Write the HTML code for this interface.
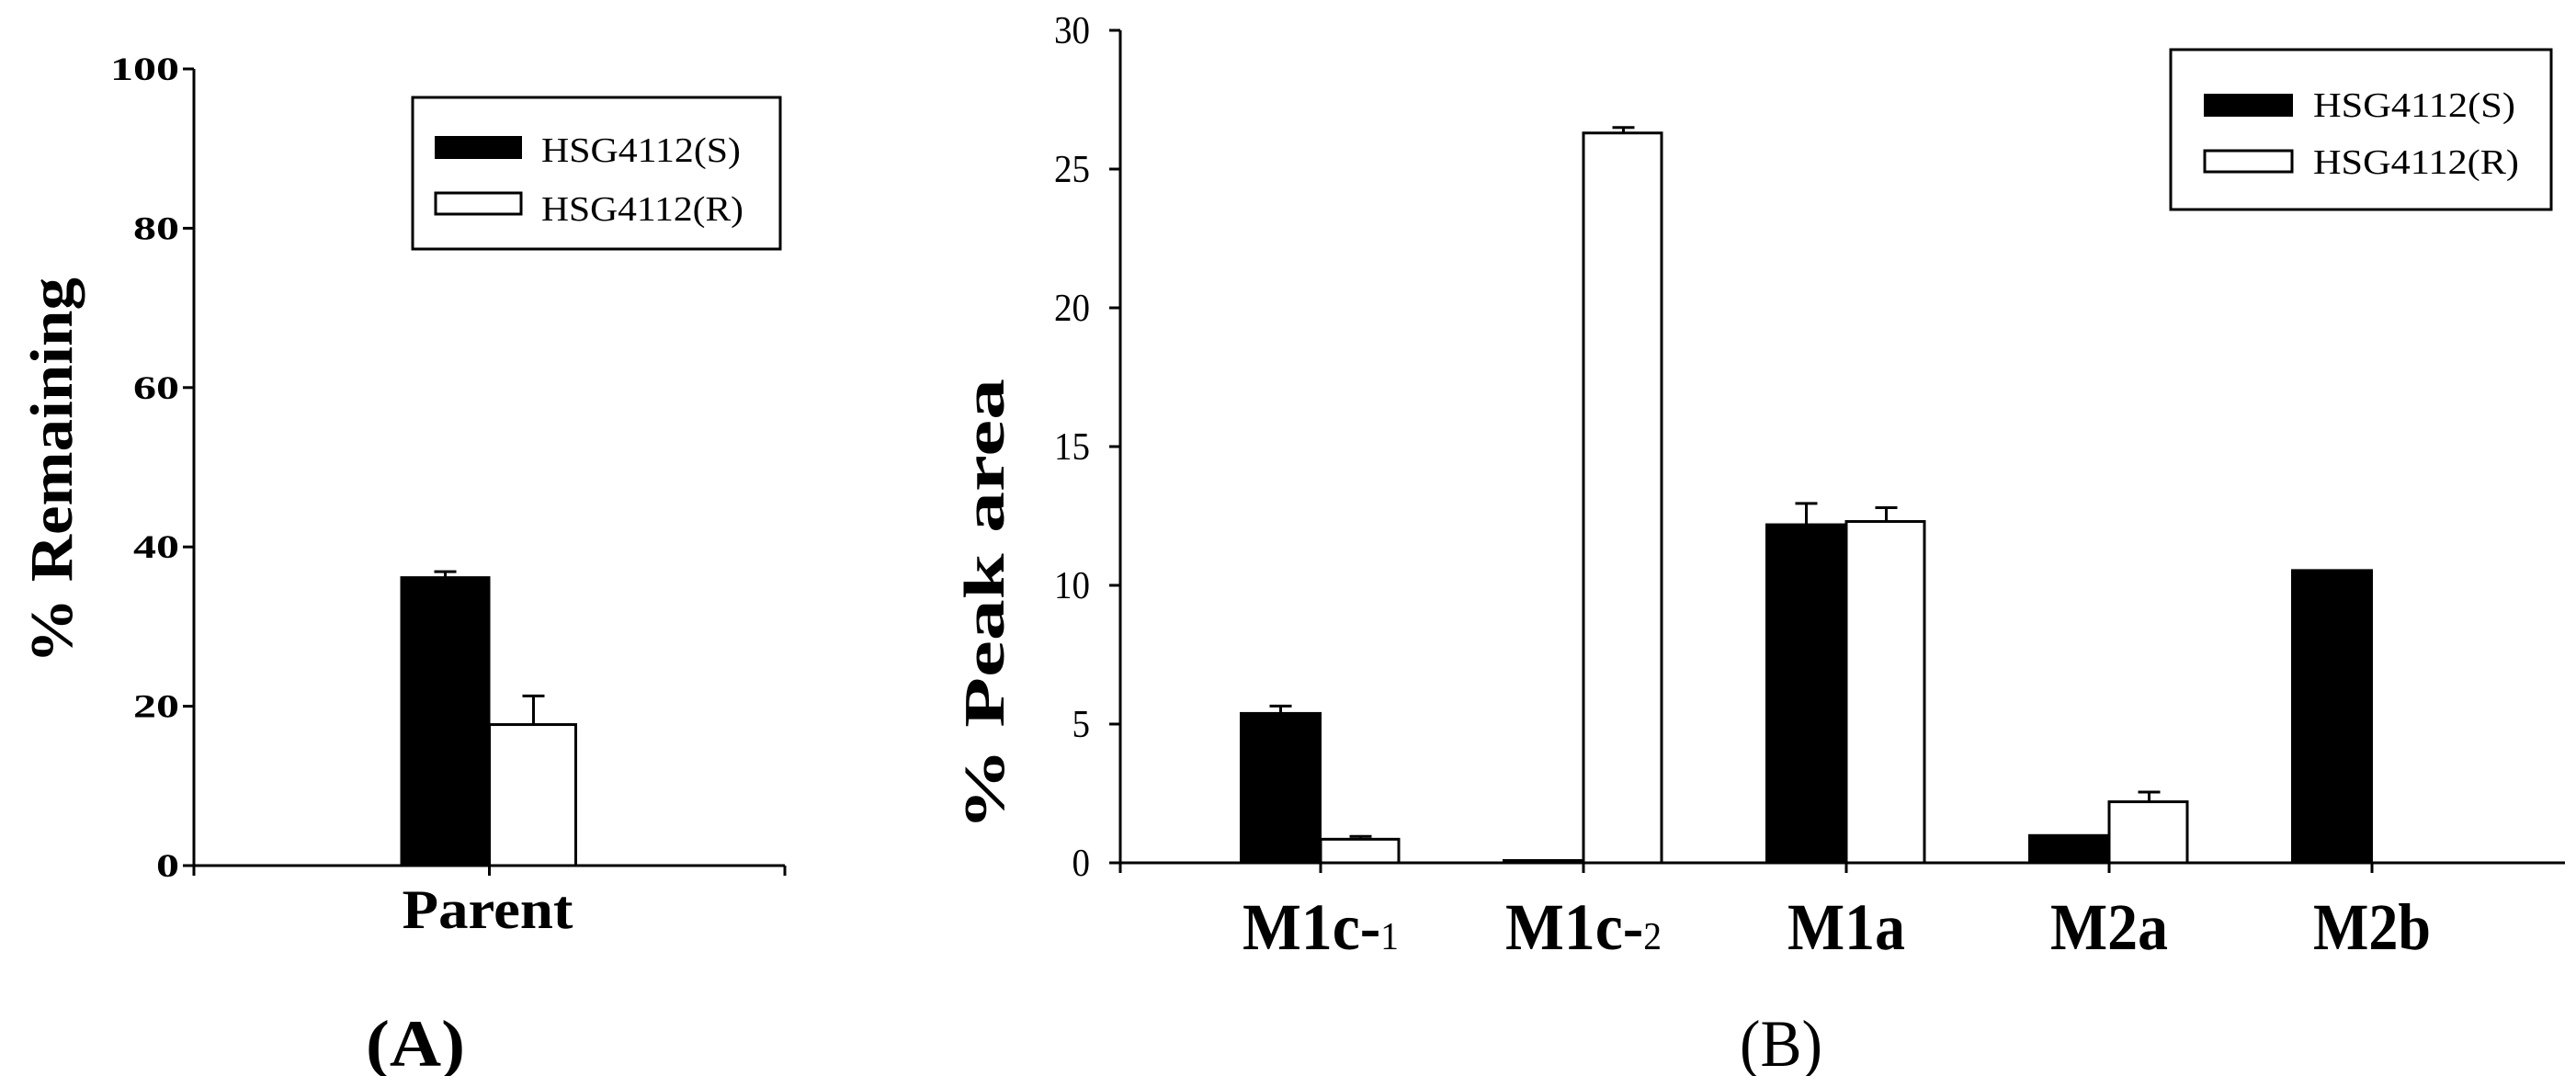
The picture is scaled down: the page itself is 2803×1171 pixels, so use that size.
<!DOCTYPE html>
<html><head><meta charset="utf-8"><style>
html,body{margin:0;padding:0;background:#fff;}
svg{display:block;font-family:"Liberation Serif",serif;}
</style></head><body>
<svg id="chart" width="2803" height="1171" viewBox="0 0 2803 1171">
<g id="pa"></g>
<g id="pb"></g>
</svg>
<script>
const aCategories = ["Parent"];
const aSValues = [36.2];
const aSErr = [0.7];
const aRValues = [17.7];
const aRErr = [3.6];
const aTicks = [0, 20, 40, 60, 80, 100];

const bCategories = ["M1c-|1", "M1c-|2", "M1a", "M2a", "M2b"];
const bSValues = [5.4, 0.1, 12.2, 1.0, 10.55];
const bSErr = [0.25, 0, 0.75, 0, 0];
const bRValues = [0.85, 26.3, 12.3, 2.2, 0];
const bRErr = [0.1, 0.2, 0.5, 0.35, 0];
const bTicks = [0, 5, 10, 15, 20, 25, 30];

const NS = "http://www.w3.org/2000/svg";
function mk(parent, tag, attrs, text) {
  const e = document.createElementNS(NS, tag);
  for (const k in attrs) e.setAttribute(k, attrs[k]);
  if (text !== undefined) e.textContent = text;
  parent.appendChild(e);
  return e;
}

// ---------- Panel A ----------
(function () {
  const g = document.getElementById('pa');
  const x0 = 211, x1 = 854, y0 = 942, yTop = 75, ymax = 100;
  const yS = v => y0 - v / ymax * (y0 - yTop);
  const catW = (x1 - x0) / aCategories.length;
  const cx = i => x0 + catW * (i + 0.5);
  const bw = 96;
  aCategories.forEach((c, i) => {
    const xc = cx(i);
    let e = mk(g, 'rect', {x: xc - bw, y: yS(aSValues[i]), width: bw, height: y0 - yS(aSValues[i]), fill: '#000', stroke: '#000', 'stroke-width': 2});
    
    
    e = mk(g, 'path', {d: `M${xc - bw / 2} ${yS(aSValues[i])} V${yS(aSValues[i] + aSErr[i])} M${xc - bw / 2 - 12} ${yS(aSValues[i] + aSErr[i])} H${xc - bw / 2 + 12}`, stroke: '#000', 'stroke-width': 3, fill: 'none'});
    
    
    e = mk(g, 'rect', {x: xc, y: yS(aRValues[i]), width: bw - 2, height: y0 - yS(aRValues[i]), fill: '#fff', stroke: '#000', 'stroke-width': 3});
    
    
    e = mk(g, 'path', {d: `M${xc + bw / 2} ${yS(aRValues[i])} V${yS(aRValues[i] + aRErr[i])} M${xc + bw / 2 - 12} ${yS(aRValues[i] + aRErr[i])} H${xc + bw / 2 + 12}`, stroke: '#000', 'stroke-width': 3, fill: 'none'});
    
    
    e = mk(g, 'text', {x: xc - 2, y: 1010, 'font-size': 60, 'font-weight': 'bold', 'text-anchor': 'middle', textLength: 186, lengthAdjust: 'spacingAndGlyphs'}, c);
    
    
    mk(g, 'line', {x1: xc, x2: xc, y1: y0, y2: y0 + 11, stroke: '#000', 'stroke-width': 3});
  });
  let ax = mk(g, 'path', {d: `M${x0} ${yTop} V${y0} H${x1} M${x0} ${y0} V${y0 + 11} M${x1} ${y0} V${y0 + 11}`, stroke: '#000', 'stroke-width': 3, fill: 'none'});
  
  
  aTicks.forEach(t => {
    mk(g, 'line', {x1: x0 - 12, x2: x0, y1: yS(t), y2: yS(t), stroke: '#000', 'stroke-width': 3});
    const s = String(t);
    const e = mk(g, 'text', {x: 195, y: yS(t) + 12, 'font-size': 36, 'font-weight': 'bold', 'text-anchor': 'end', textLength: s.length * 25, lengthAdjust: 'spacingAndGlyphs'}, s);
    
    
  });
  let t = mk(g, 'text', {x: 0, y: 0, 'font-size': 66, 'font-weight': 'bold', 'text-anchor': 'middle', transform: 'translate(78,512) rotate(-90)', textLength: 420, lengthAdjust: 'spacingAndGlyphs'}, '% Remaining');
  
  
  t = mk(g, 'text', {x: 452, y: 1160, 'font-size': 72, 'font-weight': 'bold', 'text-anchor': 'middle', textLength: 108, lengthAdjust: 'spacingAndGlyphs'}, '(A)');
  
  
  const lg = mk(g, 'g', {});
  
  
  mk(lg, 'rect', {x: 449, y: 106, width: 400, height: 165, fill: '#fff', stroke: '#000', 'stroke-width': 3});
  mk(lg, 'rect', {x: 474, y: 149, width: 93, height: 23, fill: '#000', stroke: '#000', 'stroke-width': 2});
  mk(lg, 'rect', {x: 474, y: 210, width: 93, height: 23, fill: '#fff', stroke: '#000', 'stroke-width': 3});
  mk(lg, 'text', {x: 589, y: 176, 'font-size': 38, textLength: 217, lengthAdjust: 'spacingAndGlyphs'}, 'HSG4112(S)');
  mk(lg, 'text', {x: 589, y: 240, 'font-size': 38, textLength: 220, lengthAdjust: 'spacingAndGlyphs'}, 'HSG4112(R)');
})();

// ---------- Panel B ----------
(function () {
  const g = document.getElementById('pb');
  const x0 = 1219, x1 = 2791, y0 = 939, yTop = 33, ymax = 30;
  const yS = v => y0 - v / ymax * (y0 - yTop);
  const step = 286, first = 1437;
  const cx = i => first + step * i;
  const bw = 87;
  bCategories.forEach((c, i) => {
    const xc = cx(i);
    let e = mk(g, 'rect', {x: xc - bw, y: yS(bSValues[i]), width: bw, height: y0 - yS(bSValues[i]), fill: '#000', stroke: '#000', 'stroke-width': 2});
    
    
    if (bSErr[i] > 0) {
      e = mk(g, 'path', {d: `M${xc - bw / 2} ${yS(bSValues[i])} V${yS(bSValues[i] + bSErr[i])} M${xc - bw / 2 - 12} ${yS(bSValues[i] + bSErr[i])} H${xc - bw / 2 + 12}`, stroke: '#000', 'stroke-width': 3, fill: 'none'});
      
      
    }
    if (bRValues[i] > 0) {
      e = mk(g, 'rect', {x: xc, y: yS(bRValues[i]), width: bw - 2, height: y0 - yS(bRValues[i]), fill: '#fff', stroke: '#000', 'stroke-width': 3});
      
      
    }
    if (bRErr[i] > 0) {
      e = mk(g, 'path', {d: `M${xc + bw / 2} ${yS(bRValues[i])} V${yS(bRValues[i] + bRErr[i])} M${xc + bw / 2 - 12} ${yS(bRValues[i] + bRErr[i])} H${xc + bw / 2 + 12}`, stroke: '#000', 'stroke-width': 3, fill: 'none'});
      
      
    }
    mk(g, 'line', {x1: xc, x2: xc, y1: y0, y2: y0 + 11, stroke: '#000', 'stroke-width': 3});
    const parts = c.split('|');
    e = mk(g, 'text', {x: xc, y: 1033, 'font-size': 72, 'font-weight': 'bold', 'text-anchor': 'middle', textLength: parts[1] ? 170 : 128, lengthAdjust: 'spacingAndGlyphs'});
    
    
    mk(e, 'tspan', {}, parts[0]);
    if (parts[1]) mk(e, 'tspan', {'font-size': 42, 'font-weight': 'normal'}, parts[1]);
  });
  let ax = mk(g, 'path', {d: `M${x0} ${yTop} V${y0} H${x1} M${x0} ${y0} V${y0 + 11}`, stroke: '#000', 'stroke-width': 3, fill: 'none'});
  
  
  bTicks.forEach(t => {
    mk(g, 'line', {x1: x0 - 12, x2: x0, y1: yS(t), y2: yS(t), stroke: '#000', 'stroke-width': 3});
    const s = String(t);
    const e = mk(g, 'text', {x: 1186, y: yS(t) + 14, 'font-size': 42, 'text-anchor': 'end', textLength: s.length * 19.5, lengthAdjust: 'spacingAndGlyphs'}, s);
    
    
  });
  let t = mk(g, 'text', {x: 0, y: 0, 'font-size': 62, 'font-weight': 'bold', 'text-anchor': 'middle', transform: 'translate(1092,658) rotate(-90)', textLength: 492, lengthAdjust: 'spacingAndGlyphs'}, '% Peak area');
  
  
  t = mk(g, 'text', {x: 1938, y: 1160, 'font-size': 72, 'text-anchor': 'middle', textLength: 90, lengthAdjust: 'spacingAndGlyphs'}, '(B)');
  
  
  const lg = mk(g, 'g', {});
  
  
  mk(lg, 'rect', {x: 2362, y: 54, width: 414, height: 174, fill: '#fff', stroke: '#000', 'stroke-width': 3});
  mk(lg, 'rect', {x: 2399, y: 103, width: 95, height: 23, fill: '#000', stroke: '#000', 'stroke-width': 2});
  mk(lg, 'rect', {x: 2399, y: 164, width: 95, height: 23, fill: '#fff', stroke: '#000', 'stroke-width': 3});
  mk(lg, 'text', {x: 2517, y: 127, 'font-size': 38, textLength: 220, lengthAdjust: 'spacingAndGlyphs'}, 'HSG4112(S)');
  mk(lg, 'text', {x: 2517, y: 189, 'font-size': 38, textLength: 224, lengthAdjust: 'spacingAndGlyphs'}, 'HSG4112(R)');
})();
</script>
</body></html>
